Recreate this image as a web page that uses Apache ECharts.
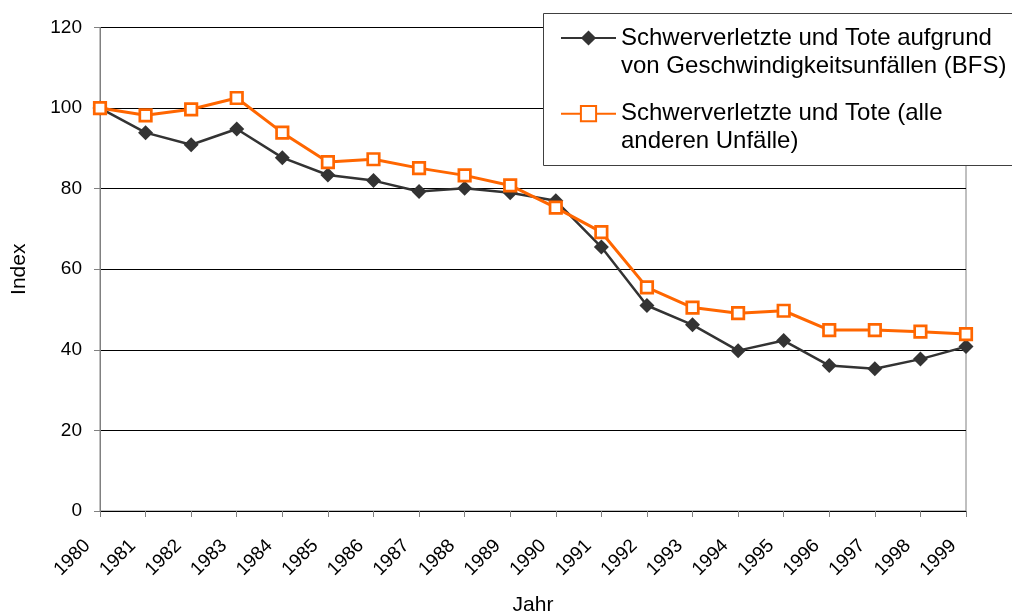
<!DOCTYPE html>
<html>
<head>
<meta charset="utf-8">
<script src="https://cdn.jsdelivr.net/npm/echarts@6/dist/echarts.min.js"></script>
<style>
html,body{margin:0;padding:0;background:#fff;}
#chart{width:1012px;height:615px;}
</style>
</head>
<body>
<div id="chart"></div>
<script>
const years = ['1980','1981','1982','1983','1984','1985','1986','1987','1988','1989','1990','1991','1992','1993','1994','1995','1996','1997','1998','1999'];
const speedAccidents = [100, 93.9, 90.9, 94.8, 87.7, 83.4, 82.0, 79.3, 80.1, 79.0, 77.0, 65.5, 51.0, 46.2, 39.8, 42.3, 36.1, 35.3, 37.7, 40.8];
const otherAccidents = [100, 98.2, 99.7, 102.5, 93.9, 86.6, 87.3, 85.1, 83.3, 80.8, 75.3, 69.2, 55.5, 50.5, 49.1, 49.7, 44.9, 44.9, 44.5, 43.9];
const seriesNames = ['Schwerverletzte und Tote aufgrund\nvon Geschwindigkeitsunfällen (BFS)', 'Schwerverletzte und Tote (alle\nanderen Unfälle)'];
const xAxisName = 'Jahr';
const yAxisName = 'Index';

const FONT = '"Liberation Sans", Arial, sans-serif';
const chart = echarts.init(document.getElementById('chart'), null, {renderer: 'canvas'});
chart.setOption({
  animation: false,
  backgroundColor: '#fff',
  grid: {left: 100, right: 46, top: 27.5, bottom: 104, outerBoundsMode: 'none', containLabel: false,
         show: true, borderColor: '#808080', borderWidth: 1, backgroundColor: 'transparent'},
  graphic: [{
    type: 'rect', z: 5, zlevel: 0,
    shape: {x: 543.5, y: 13.5, width: 500, height: 152},
    style: {fill: '#fff', stroke: '#404040', lineWidth: 1}
  }],
  legend: {
    left: 560, top: -4, orient: 'vertical', z: 10,
    itemWidth: 55, itemHeight: 19, itemGap: -8.3,
    padding: 0,
    formatter: function (name) {
      const lines = name.split('\n');
      return '{s| }\n' + lines.map(function (l) { return '{t|' + l + '}'; }).join('\n');
    },
    textStyle: {
      fontFamily: FONT, fontSize: 24, lineHeight: 28, color: '#000',
      rich: {
        s: {fontFamily: FONT, fontSize: 24, lineHeight: 28},
        t: {fontFamily: FONT, fontSize: 24, lineHeight: 28, color: '#000'}
      }
    },
    data: seriesNames
  },
  xAxis: {
    type: 'category', data: years, boundaryGap: false,
    name: xAxisName, nameLocation: 'middle', nameGap: 84,
    nameTextStyle: {fontFamily: FONT, fontSize: 21, color: '#000'},
    axisLine: {lineStyle: {color: '#000', width: 1}},
    axisTick: {show: true, length: 6, lineStyle: {color: '#808080'}},
    axisLabel: {rotate: 45, margin: 19, padding: [0, 18, 0, 0], fontFamily: FONT, fontSize: 19, color: '#000', interval: 0},
    splitLine: {show: false}
  },
  yAxis: {
    type: 'value', min: 0, max: 120, interval: 20,
    name: yAxisName, nameLocation: 'middle', nameGap: 70, nameRotate: 90,
    nameTextStyle: {fontFamily: FONT, fontSize: 21, color: '#000'},
    axisLine: {show: true, lineStyle: {color: '#808080', width: 1}},
    axisTick: {show: true, length: 6, lineStyle: {color: '#808080'}},
    axisLabel: {margin: 18, fontFamily: FONT, fontSize: 19, color: '#000'},
    splitLine: {show: true, lineStyle: {color: '#000', width: 1}}
  },
  series: [
    {
      name: seriesNames[0], type: 'line', data: speedAccidents,
      symbol: 'diamond', symbolSize: 15,
      itemStyle: {color: '#333333'},
      lineStyle: {color: '#333333', width: 2.5},
      z: 2
    },
    {
      name: seriesNames[1], type: 'line', data: otherAccidents,
      symbol: 'rect', symbolSize: 11.5,
      itemStyle: {color: '#ffffff', borderColor: '#FF6600', borderWidth: 2.7},
      lineStyle: {color: '#FF6600', width: 3},
      z: 3
    }
  ]
});
</script>
</body>
</html>
